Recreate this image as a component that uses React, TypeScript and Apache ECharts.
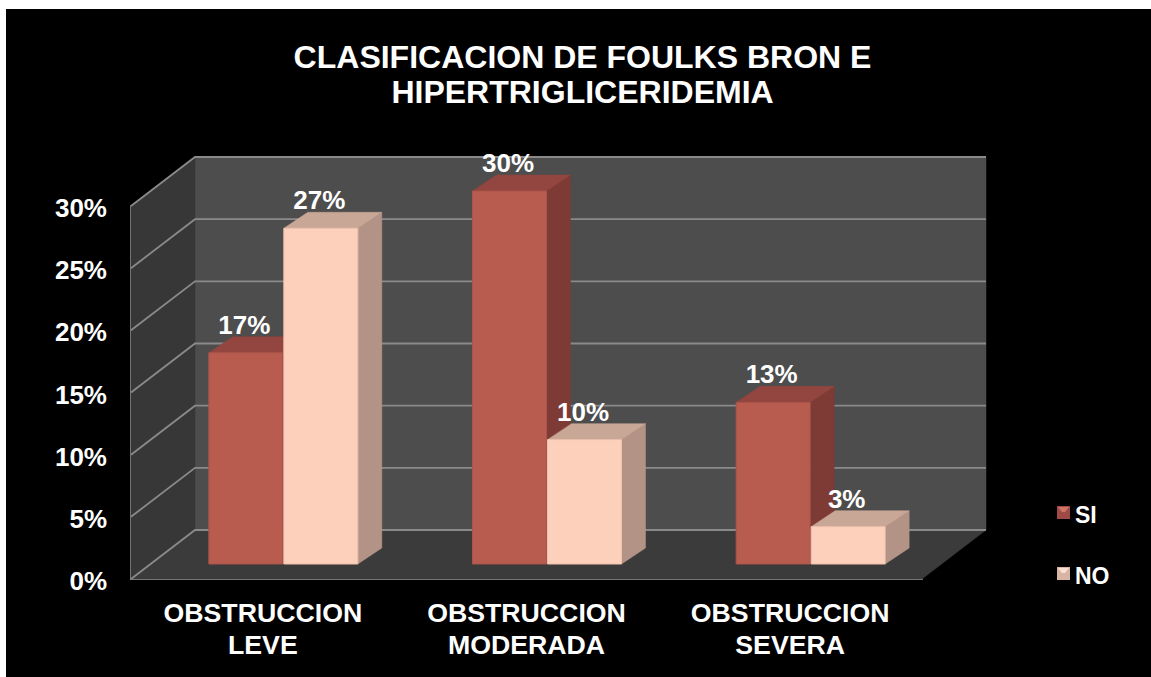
import React, { useEffect, useRef } from "react";
import * as echarts from "echarts";

const categories = ["OBSTRUCCION\nLEVE", "OBSTRUCCION\nMODERADA", "OBSTRUCCION\nSEVERA"];
const siValues = [17, 30, 13];
const noValues = [27, 10, 3];
const yTicks = [0, 5, 10, 15, 20, 25, 30];
const titleText = "CLASIFICACION DE FOULKS BRON E\nHIPERTRIGLICERIDEMIA";

const FONT = '"Liberation Sans", Arial, sans-serif';
const WALL_DX = 64;
const WALL_DY = -49;
const BAR_DX = 20;
const BAR_DY = -15;
const BAR_W = 74;
const SIDE_DX = 24;
const SIDE_DY = -16;

const palette: Record<string, { front: string; side: string; top: string; edge: string }> = {
  SI: { front: "#b85c50", side: "#7e3a35", top: "#93453f", edge: "#a9544a" },
  NO: { front: "#fdd0bc", side: "#b29386", top: "#c9a796", edge: "#f0c2ae" },
};

function poly(points: number[][], fill: string, stroke?: string) {
  return {
    type: "polygon",
    shape: { points },
    style: { fill, stroke: stroke || fill, lineWidth: stroke ? 1 : 0.5, lineJoin: "round" },
  };
}

function renderWalls(params: any) {
  const c = params.coordSys;
  const l = c.x, r = c.x + c.width, t = c.y, b = c.y + c.height;
  return {
    type: "group",
    children: [
      poly([[l + WALL_DX, t + WALL_DY], [r + WALL_DX, t + WALL_DY], [r + WALL_DX, b + WALL_DY], [l + WALL_DX, b + WALL_DY]], "#4d4d4d"),
      poly([[l, t], [l + WALL_DX, t + WALL_DY], [l + WALL_DX, b + WALL_DY], [l, b]], "#373737"),
      poly([[l, b], [l + WALL_DX, b + WALL_DY], [r + WALL_DX, b + WALL_DY], [r, b]], "#3b3b3b"),
    ],
  };
}

function renderGridline(params: any, api: any) {
  const c = params.coordSys;
  const y = api.coord([0, api.value(1)])[1];
  const l = c.x, r = c.x + c.width;
  return {
    type: "polyline",
    shape: { points: [[l, y], [l + WALL_DX, y + WALL_DY], [r + WALL_DX, y + WALL_DY]] },
    style: { fill: "none", stroke: "#8a8a8a", lineWidth: 1.8 },
  };
}

function makeBarRenderer(name: string, xShift: number) {
  return (_params: any, api: any) => {
    const p = palette[name];
    const value = api.value(1);
    const top = api.coord([api.value(0), value]);
    const base = api.coord([api.value(0), 0]);
    const x0 = top[0] + BAR_DX + xShift;
    const x1 = x0 + BAR_W;
    const y0 = top[1] + BAR_DY;
    const y1 = base[1] + BAR_DY;
    return {
      type: "group",
      children: [
        poly([[x1, y0], [x1 + SIDE_DX, y0 + SIDE_DY], [x1 + SIDE_DX, y1 + SIDE_DY], [x1, y1]], p.side),
        poly([[x0, y0], [x0 + SIDE_DX, y0 + SIDE_DY], [x1 + SIDE_DX, y0 + SIDE_DY], [x1, y0]], p.top),
        poly([[x0, y0], [x1, y0], [x1, y1], [x0, y1]], p.front, p.edge),
        {
          type: "text",
          x: (x0 + x1) / 2 - 1.5,
          y: y0 + SIDE_DY - 12,
          style: {
            text: value + "%",
            fill: "#ffffff",
            font: `bold 26px ${FONT}`,
            align: "center",
            verticalAlign: "middle",
          },
        },
      ],
    };
  };
}

function legendIcon(y: number, base: string, light: string) {
  return {
    type: "group",
    z: 100,
    x: 1057,
    y,
    children: [
      { type: "rect", shape: { x: 0, y: 0, width: 13, height: 13 }, style: { fill: base } },
      { type: "polygon", shape: { points: [[1, 1], [12, 1], [6.5, 8]] }, style: { fill: light } },
    ],
  };
}

export default function App() {
  const ref = useRef<HTMLDivElement>(null);
  useEffect(() => {
    document.body.style.margin = "0";
    const chart = echarts.init(ref.current!, undefined, { renderer: "svg" });
    chart.setOption({
      animation: false,
      backgroundColor: "#ffffff",
      graphic: [
        { type: "rect", z: -10, shape: { x: 6, y: 9, width: 1145, height: 668 }, style: { fill: "#000000" } },
        legendIcon(506, "#a04a48", "#d07468"),
        legendIcon(567, "#d8b4a4", "#fbe0d2"),
      ],
      title: {
        text: titleText,
        left: 577.5,
        top: 34,
        textAlign: "center",
        textStyle: { color: "#ffffff", fontFamily: FONT, fontWeight: "bold", fontSize: 32, lineHeight: 35 },
      },
      legend: {
        data: ["SI", "NO"],
        orient: "vertical",
        left: 1057,
        top: 503.5,
        padding: 0,
        icon: "rect",
        itemWidth: 13,
        itemHeight: 6,
        itemGap: 38,
        selectedMode: false,
        textStyle: { color: "#ffffff", fontFamily: FONT, fontWeight: "bold", fontSize: 23 },
      },
      grid: { left: 131, top: 206, width: 791, height: 373 },
      xAxis: {
        type: "category",
        data: categories,
        axisLine: { show: true, lineStyle: { color: "#8a8a8a", width: 2 } },
        axisTick: { show: false },
        axisLabel: {
          color: "#ffffff",
          fontFamily: FONT,
          fontWeight: "bold",
          fontSize: 26.7,
          lineHeight: 32,
          margin: 18,
          interval: 0,
        },
      },
      yAxis: {
        type: "value",
        min: 0,
        max: 30,
        interval: 5,
        splitLine: { show: false },
        axisLine: { show: true, lineStyle: { color: "#8a8a8a", width: 2 } },
        axisTick: { show: false },
        axisLabel: {
          color: "#ffffff",
          fontFamily: FONT,
          fontWeight: "bold",
          fontSize: 26,
          margin: 24,
          formatter: "{value}%",
          verticalAlign: "bottom",
          padding: [0, 0, -15, 0],
        },
      },
      series: [
        { type: "custom", name: "walls", silent: true, z: 1, renderItem: renderWalls, data: [[0, 0]], encode: { x: 0, y: 1 } },
        { type: "custom", name: "grid", silent: true, z: 2, renderItem: renderGridline, data: yTicks.map((t) => [0, t]), encode: { x: 0, y: 1 } },
        {
          type: "custom",
          name: "SI",
          z: 3,
          itemStyle: { color: "#a04a48" },
          renderItem: makeBarRenderer("SI", -BAR_W),
          data: siValues.map((v, i) => [i, v]),
          encode: { x: 0, y: 1 },
        },
        {
          type: "custom",
          name: "NO",
          z: 4,
          itemStyle: { color: "#d8b4a4" },
          renderItem: makeBarRenderer("NO", 1),
          data: noValues.map((v, i) => [i, v]),
          encode: { x: 0, y: 1 },
        },
      ],
    });
    return () => chart.dispose();
  }, []);
  return <div ref={ref} style={{ position: "fixed", left: 0, top: 0, width: 1151, height: 677 }} />;
}
